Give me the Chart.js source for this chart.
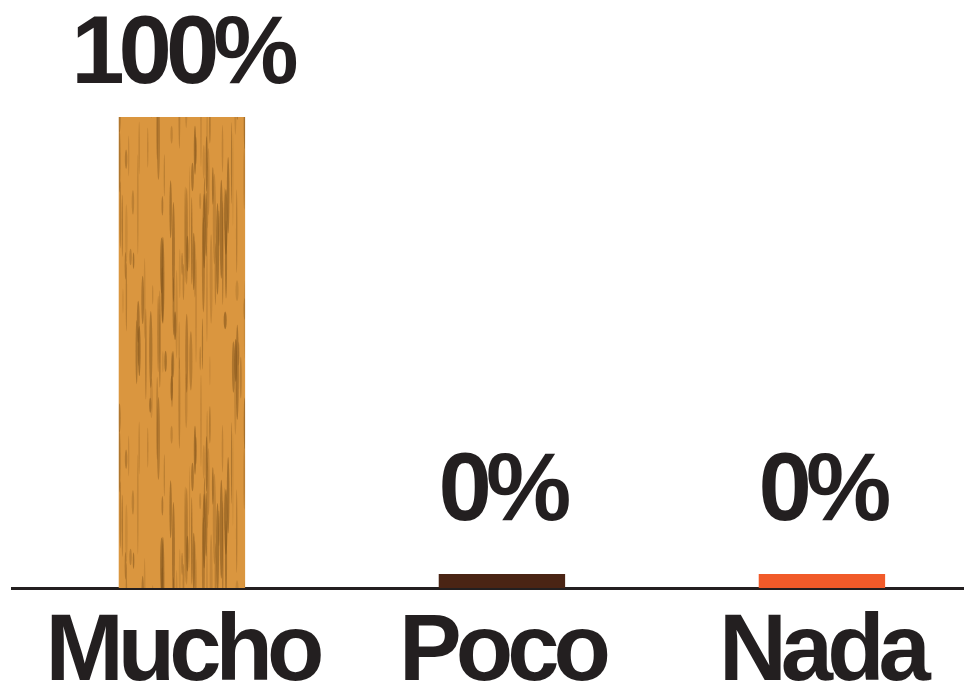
<!DOCTYPE html>
<html><head><meta charset="utf-8">
<script src="https://cdn.jsdelivr.net/npm/chart.js@4"></script>
<style>html,body{margin:0;padding:0;background:#fff;overflow:hidden}#wrap{width:964px;height:687px;position:relative}</style>
</head><body><div id="wrap"><canvas id="c" width="964" height="687"></canvas></div>
<script>
const categories = ['Mucho', 'Poco', 'Nada'];
const values = [100, 0, 0];
const valueLabels = ['100%', '0%', '0%'];
const barColors = ['#DA963F', '#4A2414', '#F15A29'];

const TEXT = '#231F20';
const canvas = document.getElementById('c');
const ctx = canvas.getContext('2d');

function hash(n){ const s = Math.sin(n * 12.9898 + 78.233) * 43758.5453; return s - Math.floor(s); }
function woodPattern(){
  const c = document.createElement('canvas');
  c.width = 128; c.height = 300;
  const g = c.getContext('2d');
  g.fillStyle = '#DA963F';
  g.fillRect(0, 0, c.width, c.height);
  const H = c.height;
  for (let i = 0; i < 110; i++) {
    const x = hash(i) * 128;
    const y = hash(i + 500) * H;
    const len = 15 + hash(i + 1000) * 90;
    const w = 0.8 + hash(i + 1500) * 2.4;
    const a = 0.2 + hash(i + 2000) * 0.45;
    g.fillStyle = 'rgba(135,88,30,' + a.toFixed(2) + ')';
    [0, -H, H].forEach(off => {
      g.beginPath();
      g.ellipse(x, y + off, w / 2, len / 2, 0, 0, Math.PI * 2);
      g.fill();
    });
  }
  return ctx.createPattern(c, 'repeat');
}
const fills = barColors.slice();
fills[0] = woodPattern();

const spacingPlugin = {
  id: 'spacing',
  beforeLayout(chart) { chart.ctx.letterSpacing = '-6px'; },
  beforeDraw(chart) { chart.ctx.letterSpacing = '-6px'; },
  afterDraw(chart) { chart.ctx.letterSpacing = '0px'; }
};

const valueLabelPlugin = {
  id: 'valueLabels',
  afterDatasetsDraw(chart) {
    const meta = chart.getDatasetMeta(0);
    const c = chart.ctx;
    c.save();
    c.font = 'bold 96px "Liberation Sans", Arial, sans-serif';
    const ls = -6;
    c.letterSpacing = ls + 'px';
    c.fillStyle = TEXT;
    c.textAlign = 'center';
    c.textBaseline = 'alphabetic';
    meta.data.forEach((bar, i) => {
      const y = Math.min(bar.y - 34, bar.base - 68);
      c.fillText(valueLabels[i], bar.x + ls / 2 + 3, y);
    });
    c.restore();
  }
};

new Chart(ctx, {
  type: 'bar',
  data: {
    datasets: [{
      data: categories.map((c, i) => ({ x: i, y: values[i] })),
      backgroundColor: fills,
      borderWidth: 0,
      minBarLength: 14,
      barPercentage: 0.395,
      categoryPercentage: 1
    }]
  },
  options: {
    responsive: false,
    animation: false,
    devicePixelRatio: 1,
    layout: { padding: { top: 117, left: 12, right: 0, bottom: 0 } },
    plugins: { legend: { display: false }, tooltip: { enabled: false } },
    scales: {
      x: {
        type: 'linear',
        min: -0.531,
        max: 2.444,
        offset: false,
        afterBuildTicks: (axis) => { axis.ticks = categories.map((c, i) => ({ value: i })); },
        afterFit: (axis) => { axis.height = 99; },
        grid: { display: false, drawTicks: false },
        border: { display: true, color: TEXT, width: 3 },
        ticks: {
          autoSkip: false,
          maxRotation: 0,
          padding: 32,
          color: TEXT,
          font: { family: '"Liberation Sans", Arial, sans-serif', size: 94, weight: 'bold', lineHeight: 0.723 },
          callback: (v) => categories[v]
        }
      },
      y: { display: false, min: 0, max: 100 }
    }
  },
  plugins: [spacingPlugin, valueLabelPlugin]
});
</script></body></html>
